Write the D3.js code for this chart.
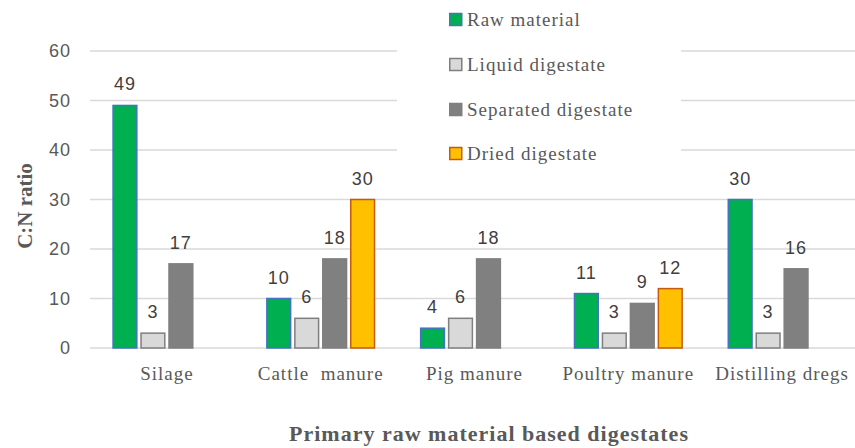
<!DOCTYPE html>
<html>
<head>
<meta charset="utf-8">
<script src="https://cdn.jsdelivr.net/npm/d3@7"></script>
<style>
  body { margin: 0; background: #fff; }
  svg { display: block; }
</style>
</head>
<body>
<svg id="drawing_region"></svg>
<script>
const categories = ['Silage', 'Cattle  manure', 'Pig manure', 'Poultry manure', 'Distilling dregs'];
const series = ['Raw material', 'Liquid digestate', 'Separated digestate', 'Dried digestate'];
const raw_material = [49, 10, 4, 11, 30];
const liquid_digestate = [3, 6, 6, 3, 3];
const separated_digestate = [17, 18, 18, 9, 16];
const dried_digestate = [null, 30, null, 12, null];
const y_ticks = [0, 10, 20, 30, 40, 50, 60];

const values = [raw_material, liquid_digestate, separated_digestate, dried_digestate];
const fills = ['#00B050', '#D9D9D9', '#808080', '#FFC000'];
const strokes = ['#4472C4', '#7F7F7F', '#7F7F7F', '#C55A11'];

const width = 855, height = 448;
const margin = {top: 51, right: -4, bottom: 100, left: 90};

const svg = d3.select('#drawing_region')
    .attr('width', width)
    .attr('height', height);

const x0 = d3.scaleBand()
    .domain(categories)
    .range([margin.left, width - margin.right])
    .paddingInner(0.3)
    .paddingOuter(0.15);

const x1 = d3.scaleBand()
    .domain(series)
    .range([0, x0.bandwidth()])
    .paddingInner(0.15);

const y = d3.scaleLinear()
    .domain([0, 60])
    .range([348, 51]);

// gridlines
svg.append('g')
    .selectAll('line')
    .data(y_ticks)
    .enter()
    .append('line')
    .attr('x1', margin.left)
    .attr('x2', width)
    .attr('y1', d => y(d))
    .attr('y2', d => y(d))
    .attr('stroke', '#D9D9D9')
    .attr('stroke-width', 1.3);

// y tick labels
svg.append('g')
    .selectAll('text')
    .data(y_ticks)
    .enter()
    .append('text')
    .attr('x', 71)
    .attr('y', d => y(d))
    .attr('dy', '0.35em')
    .attr('text-anchor', 'end')
    .style('font-family', '"Liberation Sans", Arial, sans-serif')
    .style('font-size', '18px')
    .style('letter-spacing', '1px')
    .attr('fill', '#595959')
    .text(d => d);

// bars
const bars = [];
categories.forEach((c, i) => {
    series.forEach((s, j) => {
        if (values[j][i] != null) bars.push({cat: c, ser: s, j: j, v: values[j][i]});
    });
});

svg.append('g')
    .selectAll('rect')
    .data(bars)
    .enter()
    .append('rect')
    .attr('x', d => x0(d.cat) + x1(d.ser))
    .attr('y', d => y(d.v))
    .attr('width', x1.bandwidth())
    .attr('height', d => y(0) - y(d.v))
    .attr('fill', d => fills[d.j])
    .attr('stroke', d => strokes[d.j])
    .attr('stroke-width', 1.5);

// data labels
svg.append('g')
    .selectAll('text')
    .data(bars)
    .enter()
    .append('text')
    .attr('x', d => x0(d.cat) + x1(d.ser) + x1.bandwidth() / 2)
    .attr('y', d => y(d.v) - 15)
    .attr('text-anchor', 'middle')
    .style('font-family', '"Liberation Sans", Arial, sans-serif')
    .style('font-size', '18px')
    .style('letter-spacing', '1px')
    .attr('fill', '#404040')
    .text(d => d.v);

// category labels
svg.append('g')
    .selectAll('text')
    .data(categories)
    .enter()
    .append('text')
    .attr('x', d => x0(d) + x0.bandwidth() / 2)
    .attr('y', 380)
    .attr('text-anchor', 'middle')
    .attr('xml:space', 'preserve')
    .style('white-space', 'pre')
    .style('font-family', '"Liberation Serif", "Times New Roman", serif')
    .style('font-size', '19px')
    .style('letter-spacing', '1px')
    .attr('fill', '#595959')
    .text(d => d);

// axis titles
svg.append('text')
    .attr('x', 489)
    .attr('y', 441)
    .attr('text-anchor', 'middle')
    .style('font-family', '"Liberation Serif", "Times New Roman", serif')
    .style('font-size', '22px')
    .style('font-weight', 'bold')
    .style('letter-spacing', '1px')
    .attr('fill', '#595959')
    .text('Primary raw material based digestates');

svg.append('text')
    .attr('transform', 'translate(32, 206) rotate(-90)')
    .attr('text-anchor', 'middle')
    .style('font-family', '"Liberation Serif", "Times New Roman", serif')
    .style('font-size', '21px')
    .style('font-weight', 'bold')
    .attr('fill', '#595959')
    .text('C:N ratio');

// legend
const legend = svg.append('g');
legend.append('rect')
    .attr('x', 397)
    .attr('y', 0)
    .attr('width', 284)
    .attr('height', 168)
    .attr('fill', '#fff');

const legend_y = [20, 65, 110, 154];
const items = legend.selectAll('g.item')
    .data(series)
    .enter()
    .append('g')
    .attr('class', 'item')
    .attr('transform', (d, i) => `translate(449, ${legend_y[i]})`);

items.append('rect')
    .attr('x', 0.75)
    .attr('y', -6.5)
    .attr('width', 12)
    .attr('height', 12)
    .attr('fill', (d, i) => fills[i])
    .attr('stroke', (d, i) => strokes[i])
    .attr('stroke-width', 1.5);

items.append('text')
    .attr('x', 18)
    .attr('y', 0)
    .attr('dy', '0.33em')
    .style('font-family', '"Liberation Serif", "Times New Roman", serif')
    .style('font-size', '19px')
    .style('letter-spacing', '1px')
    .attr('fill', '#595959')
    .text(d => d);
</script>
</body>
</html>
